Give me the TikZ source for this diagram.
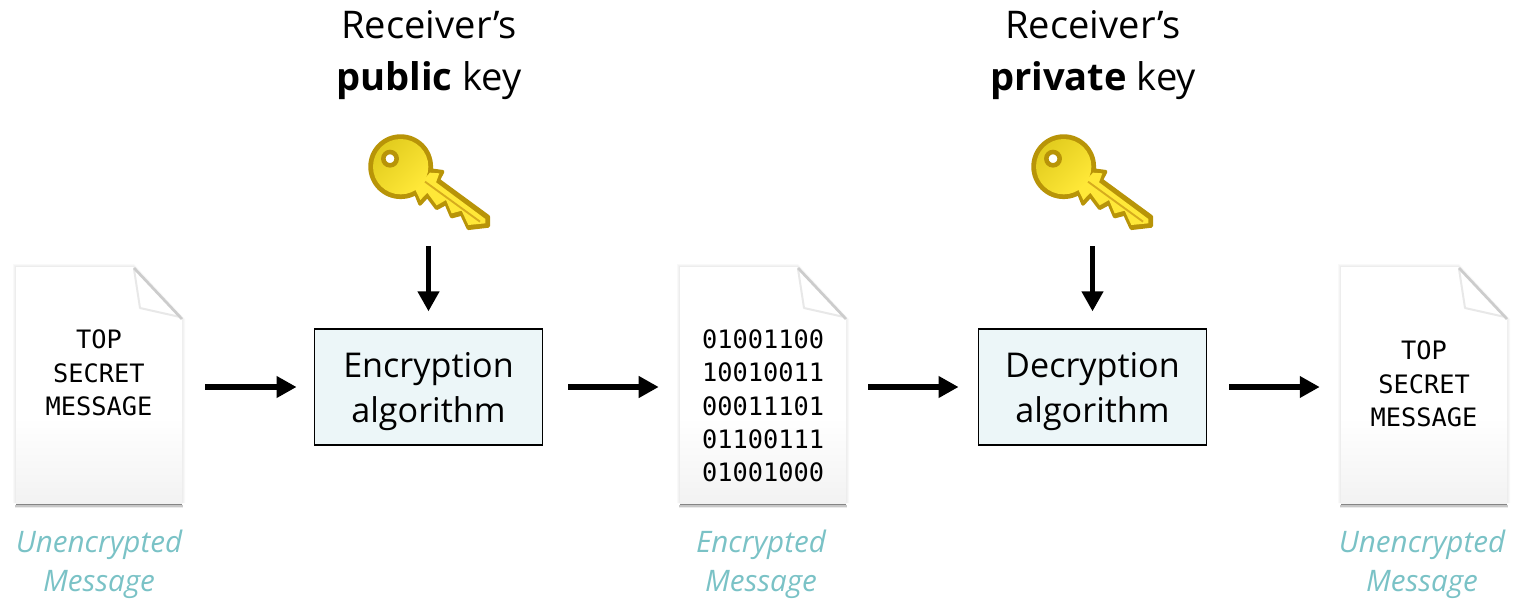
\documentclass[tikz,border=0pt]{standalone}
\usepackage{fontspec}
\setmainfont{Open Sans}
\setmonofont{DejaVu Sans Mono}
\usetikzlibrary{arrows.meta}
\definecolor{boxfill}{RGB}{236,246,248}
\definecolor{captionteal}{RGB}{122,194,198}
\definecolor{keyedge}{RGB}{184,148,8}
\definecolor{keyshaft}{RGB}{214,172,30}
\definecolor{keylight}{RGB}{255,232,56}
\definecolor{keydim}{RGB}{226,204,30}
\tikzset{
  bigarrow/.style={line width=4.3pt,-{Triangle[length=15pt,width=15.5pt]}},
  algobox/.style={draw,line width=0.9pt,fill=boxfill,minimum width=171.5pt,minimum height=87pt},
  algotext/.style={align=center,font=\fontsize{25.6}{33.7}\selectfont},
  pagetext/.style={align=center,font=\ttfamily\fontsize{19}{25}\selectfont},
  caption/.style={align=center,text=captionteal,font=\itshape\fontsize{22.2}{29}\selectfont},
  keytitle/.style={align=center,font=\fontsize{28.6}{39}\selectfont},
  hidden/.style={minimum width=124.5pt,minimum height=177pt,inner sep=0pt}
}
\begin{document}
\begin{tikzpicture}[x=0.75pt,y=0.75pt,yscale=-1,xscale=1]
\useasboundingbox (0,0) rectangle (1515,599);

%Shape: Page sheets
\foreach \pagename/\pagex in {pageone/16,pagetwo/680,pagethree/1341}{
  \begin{scope}[shift={(\pagex,267)}]
    % soft shadow
    \foreach \grow in {3,2,1}
      \fill [black,opacity=0.025] (-\grow,-\grow) -- (118,-\grow) -- (166+\grow,52) -- (166+\grow,236) -- (-\grow,236) -- cycle ;
    \fill [black!8] (-1,239) rectangle (167,241) ;
    \fill [black!22] (-1,237.5) rectangle (167,239.5) ;
    \fill [black!48] (0,235.5) rectangle (166,238) ;
    \fill [top color=white,bottom color=white!95!black] (0,150) rectangle (166,236) ;
    \fill [white] (0,0) -- (117,0) -- (166,52) -- (166,150.5) -- (0,150.5) -- cycle ;
    % folded corner
    \draw [black!9,line width=1.5pt,line join=round] (118,2) -- (124,41) -- (164,50) ;
    \draw [black!20,line width=2pt] (118,1) -- (166,52) ;
    \node [hidden] (\pagename) at (83,120) {};
  \end{scope}
}

%Shape: Keys
\foreach \keyname/\keyx in {keyone/340,keytwo/1003}{
  \begin{scope}[shift={(\keyx,120)},x=0.25pt,y=0.25pt]
    \path [fill=keyedge,draw=keyedge,line width=2.6pt,line join=round] (182,140) circle [radius=92] (225,215) -- (240,252) -- (262,228) -- (290,265) -- (318,250) -- (335,290) -- (365,282) -- (385,325) -- (445,318) -- (445,290) -- (295,180) -- (308,155) -- (270,150) -- cycle ;
    \path [fill=keylight] (225,207) -- (241,240) -- (262,218) -- (290,256) -- (318,240) -- (335,280) -- (365,272) -- (385,315) -- (436,310) -- (436,297) -- (288,187) -- (298,160) -- (270,158) -- cycle ;
    \path [left color=keydim,right color=keylight,shading angle=45] (182,140) circle [radius=83] ;
    \draw [keyshaft,line width=1.4pt] (255,185) -- (420,305) ;
    \draw [keyedge,line width=3.4pt,fill=white] (150,116) circle [radius=20] ;
  \end{scope}
  \coordinate (\keyname) at (\keyx+89,246) ;
}

% Text Node
\node [keytitle] (titleone) at (429,55) {Receiver’s\\\textbf{public} key};
% Text Node
\node [keytitle] (titletwo) at (1093,55) {Receiver’s\\\textbf{private} key};

% Algorithm boxes
\node [algobox] (encbox) at (428.5,387) {};
\node [algobox] (decbox) at (1092.5,387) {};
% Text Node
\node [algotext] (enctext) at (428.5,392) {Encryption\\algorithm};
% Text Node
\node [algotext] (dectext) at (1092.5,392) {Decryption\\algorithm};

% Text Node
\node [pagetext] (textone) at (99,373) {TOP\\SECRET\\MESSAGE};
% Text Node
\node [pagetext] (texttwo) at (763,406) {01001100\\10010011\\00011101\\01100111\\01001000};
% Text Node
\node [pagetext] (textthree) at (1424,384) {TOP\\SECRET\\MESSAGE};

% Text Node
\node [caption] (captionone) at (99,564) {Unencrypted\\Message};
% Text Node
\node [caption] (captiontwo) at (761,564) {Encrypted\\Message};
% Text Node
\node [caption] (captionthree) at (1422,564) {Unencrypted\\Message};

%Straight Lines
\draw [bigarrow,shorten <=17.25pt,shorten >=12.75pt] (pageone.east) -- (encbox.west) ;
\draw [bigarrow,shorten <=18.75pt,shorten >=15.75pt] (encbox.east) -- (pagetwo.west) ;
\draw [bigarrow,shorten <=16.5pt,shorten >=14.25pt] (pagetwo.east) -- (decbox.west) ;
\draw [bigarrow,shorten <=16.5pt,shorten >=15.75pt] (decbox.east) -- (pagethree.west) ;
\draw [bigarrow,shorten >=12.75pt] (encbox.north |- keyone) -- (encbox.north) ;
\draw [bigarrow,shorten >=12.75pt] (decbox.north |- keytwo) -- (decbox.north) ;

\end{tikzpicture}
\end{document}
